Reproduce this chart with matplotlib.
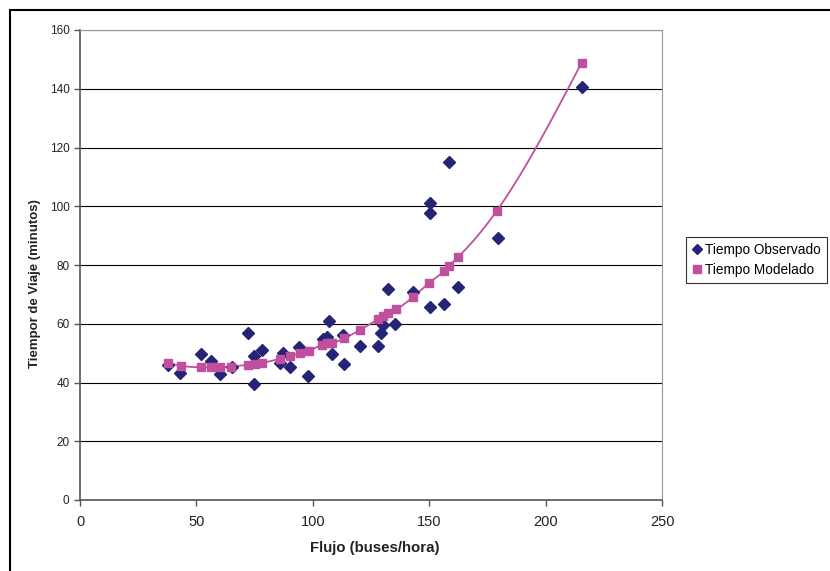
import numpy as np
import matplotlib
matplotlib.use("Agg")
import matplotlib.pyplot as plt
from matplotlib.patches import Rectangle

plt.rcParams['font.family'] = ['Liberation Sans', 'DejaVu Sans']

# Observed data
obs_x = [37.9, 43.0, 52.0, 56.1, 60.1, 65.2, 72.2, 74.9, 74.9, 78.1, 85.9, 87.3, 90.2,
         94.1, 98.1, 104.5, 106.2, 107.1, 108.1, 113.1, 113.4, 120.3, 128.1, 129.3,
         130.3, 132.4, 135.3, 143.2, 150.3, 150.3, 150.3, 156.4, 158.5, 162.2, 179.4, 215.5]
obs_y = [46.0, 43.3, 49.6, 47.4, 42.9, 45.4, 57.0, 49.0, 39.5, 51.1, 46.7, 49.9, 45.4,
         52.2, 42.2, 54.7, 55.6, 61.0, 49.7, 56.2, 46.2, 52.5, 52.5, 56.7,
         59.6, 71.8, 59.9, 70.9, 101.2, 97.8, 65.6, 66.7, 115.2, 72.6, 89.1, 140.7]

# Modeled data
mod_x = [37.9, 43.3, 52.0, 56.1, 60.1, 65.0, 72.3, 75.2, 78.1, 85.9, 90.2, 94.5, 98.4,
         103.8, 106.0, 108.1, 113.4, 120.3, 128.1, 130.3, 132.4, 135.7, 143.2, 150.0,
         156.4, 158.5, 162.5, 179.0, 215.5]
mod_y = [46.7, 45.7, 45.2, 45.2, 45.2, 45.4, 46.1, 46.4, 46.7, 48.1, 49.0, 49.9, 50.8,
         52.8, 53.3, 53.5, 55.0, 57.9, 61.6, 62.7, 63.6, 64.9, 69.2, 73.9,
         78.0, 79.7, 82.8, 98.4, 148.9]

x_ticks = [0, 50, 100, 150, 200, 250]
y_ticks = [0, 20, 40, 60, 80, 100, 120, 140, 160]

W, H = 830, 571
fig = plt.figure(figsize=(W / 100, H / 100), dpi=100)
ax = fig.add_axes([80 / W, 1 - 500 / H, (662 - 80) / W, (500 - 30) / H])

# Outer frame
fig.patches.append(Rectangle((10 / W, -0.1), 2.0, 1 - 10 / H + 0.1, transform=fig.transFigure,
                             fill=False, edgecolor='black', linewidth=1.5, clip_on=False))


def natural_spline(xs, ys, n=600):
    x = np.asarray(xs, float)
    y = np.asarray(ys, float)
    m = len(x)
    h = np.diff(x)
    A = np.zeros((m, m))
    b = np.zeros(m)
    A[0, 0] = 1
    A[-1, -1] = 1
    for i in range(1, m - 1):
        A[i, i - 1] = h[i - 1]
        A[i, i] = 2 * (h[i - 1] + h[i])
        A[i, i + 1] = h[i]
        b[i] = 3 * ((y[i + 1] - y[i]) / h[i] - (y[i] - y[i - 1]) / h[i - 1])
    c = np.linalg.solve(A, b)
    bb = (y[1:] - y[:-1]) / h - h * (2 * c[:-1] + c[1:]) / 3
    d = (c[1:] - c[:-1]) / (3 * h)
    xx = np.linspace(x[0], x[-1], n)
    idx = np.clip(np.searchsorted(x, xx) - 1, 0, m - 2)
    dx = xx - x[idx]
    yy = y[idx] + bb[idx] * dx + c[idx] * dx ** 2 + d[idx] * dx ** 3
    return xx, yy


pink = '#c0509e'
navy = '#252577'

sx, sy = natural_spline(mod_x, mod_y)
ax.plot(sx, sy, color=pink, linewidth=1.3, zorder=3)
ax.plot(obs_x, obs_y, linestyle='none', marker='D', markersize=5.8, color=navy,
        markeredgecolor=navy, zorder=4, label='Tiempo Observado')
ax.plot(mod_x, mod_y, linestyle='none', marker='s', markersize=6, color=pink,
        markeredgecolor=pink, zorder=5, label='Tiempo Modelado')

ax.set_xlim(0, 250)
ax.set_ylim(0, 160)
ax.set_xticks(x_ticks)
ax.set_yticks(y_ticks)
ax.set_xticklabels([str(v) for v in x_ticks], fontsize=10.5, color='#222222')
ax.set_yticklabels([str(v) for v in y_ticks], fontsize=8.5, color='#222222')
ax.yaxis.grid(True, color='black', linewidth=0.8)
ax.set_axisbelow(True)
ax.tick_params(axis='both', direction='out', length=4, color='#555555', width=1)
ax.tick_params(axis='x', pad=7)
for s in ['top', 'right']:
    ax.spines[s].set_color('#999999')
    ax.spines[s].set_linewidth(0.8)
for s in ['left', 'bottom']:
    ax.spines[s].set_color('#555555')
    ax.spines[s].set_linewidth(1.2)

ax.set_xlabel('Flujo (buses/hora)', fontsize=10.8, fontweight='bold', color='#222222')
ax.xaxis.set_label_coords((375 - 80) / (662 - 80), -(541 - 500) / 470)
ax.set_ylabel('Tiempor de Viaje (minutos)', fontsize=9.5, fontweight='bold', color='#222222')
ax.yaxis.set_label_coords(-(80 - 41) / 582, (500 - 284) / 470)

leg = fig.legend(loc='upper left', bbox_to_anchor=(686 / W, 1 - 237 / H), fontsize=9.8,
                 frameon=True, fancybox=False, edgecolor='black', borderpad=0.45,
                 handlelength=0.7, handletextpad=0.25, labelspacing=0.4, markerscale=0.9,
                 borderaxespad=0)
leg.get_frame().set_linewidth(0.8)

fig.savefig('out.png', dpi=100)
